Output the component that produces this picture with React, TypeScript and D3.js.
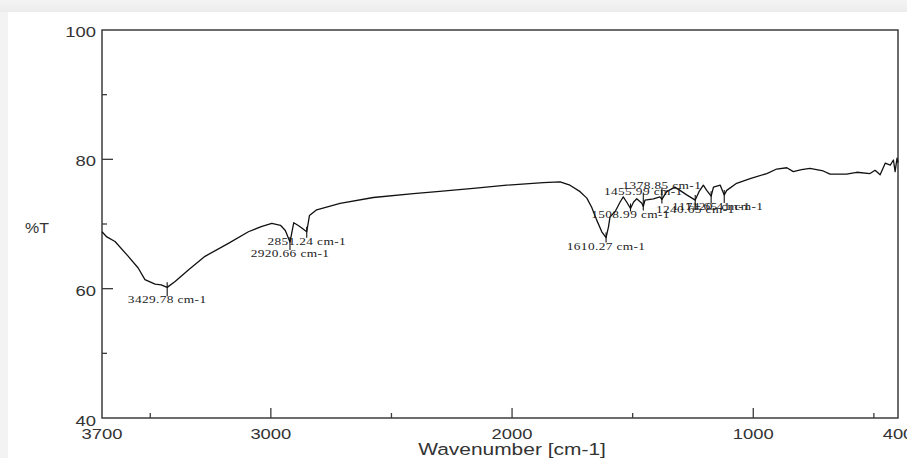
import { useEffect, useRef } from "react";
import * as d3 from "d3";

// FT-IR spectrum
const wavenumber = [
  3700, 3680, 3646, 3591, 3550, 3522, 3480, 3455, 3429.78, 3397, 3342, 3273, 3176, 3093, 3040, 2996,
  2960, 2940, 2920.66, 2905, 2883, 2865, 2851.24, 2840, 2810, 2713, 2575, 2409, 2312, 2161, 2022,
  1870, 1801, 1760, 1718, 1690, 1670, 1649, 1628, 1610.27, 1600, 1594, 1573, 1552, 1539, 1525,
  1508.99, 1496, 1483, 1462, 1455.99, 1449, 1414, 1387, 1378.85, 1359, 1325, 1304, 1276, 1240.65,
  1225, 1207, 1193, 1174.65, 1165, 1137, 1120.41, 1110, 1069, 1013, 944, 903, 861, 834, 800, 765,
  710, 682, 613, 571, 516, 495, 474, 453, 432, 419, 412, 404, 400,
];
const transmittance = [
  68.8, 68.0, 67.3, 65.0, 63.2, 61.4, 60.7, 60.6, 60.2, 61.1, 62.9, 65.0, 67.0, 68.8, 69.6, 70.1,
  69.8, 69.0, 67.2, 70.2, 69.7, 69.2, 68.8, 71.3, 72.2, 73.2, 74.1, 74.7, 75.0, 75.5, 76.0,
  76.4, 76.5, 76.0, 75.0, 74.0, 72.6, 70.6, 68.8, 67.9, 69.6, 71.1, 71.9, 73.4, 74.2, 73.4,
  72.4, 73.4, 73.9, 73.2, 72.7, 73.7, 73.9, 74.2, 73.8, 75.0, 75.7, 75.2, 74.5, 73.7,
  75.0, 76.0, 75.2, 74.3, 75.7, 76.0, 74.5, 75.2, 76.3, 77.0, 77.8, 78.5, 78.7, 78.1, 78.4, 78.6,
  78.2, 77.7, 77.7, 78.0, 77.8, 78.3, 77.6, 79.4, 79.1, 79.9, 78.1, 80.2, 79.5,
];

const peakWavenumbers = [3429.78, 2920.66, 2851.24, 1610.27, 1508.99, 1455.99, 1378.85, 1240.65, 1174.65, 1120.41];
const peakLabels = peakWavenumbers.map((w) => `${w.toFixed(2)} cm-1`);

const xTicks = [3700, 3000, 2000, 1000, 400];
const xMinorTicks = [3500, 3000, 2500, 2000, 1500, 1000, 500];
const yTicks = [100, 80, 60, 40];
const yMinorTicks = [90, 80, 70, 60, 50];

export default function App() {
  const ref = useRef<SVGSVGElement | null>(null);
  const width = 907;
  const height = 458;

  useEffect(() => {
    if (!ref.current) return;
    const svg = d3.select(ref.current);
    svg.selectAll("*").remove();

    const x = d3.scaleLinear().domain([3700, 400]).range([102, 898]);
    const y = d3.scaleLinear().domain([40, 100]).range([418, 30]);
    const stretch = "scale(1.27,1)";
    const frame = "#3c3c3c";

    // page background / card
    const defs = svg.append("defs");
    const grad = defs.append("linearGradient").attr("id", "topfade").attr("x1", 0).attr("x2", 0).attr("y1", 0).attr("y2", 1);
    grad.append("stop").attr("offset", "0%").attr("stop-color", "#f4f4f4");
    grad.append("stop").attr("offset", "100%").attr("stop-color", "#ececec");
    svg.append("rect").attr("width", width).attr("height", height).attr("fill", "#f3f3f3");
    svg.append("rect").attr("width", width).attr("height", 12).attr("fill", "url(#topfade)");
    svg.append("rect").attr("x", 8).attr("y", 12).attr("width", width - 8).attr("height", height - 12).attr("fill", "#fff");

    // frame
    svg.append("rect")
      .attr("x", x(3700)).attr("y", y(100))
      .attr("width", x(400) - x(3700)).attr("height", y(40) - y(100))
      .attr("fill", "none").attr("stroke", frame).attr("stroke-width", 1.5);

    // bottom ticks (inward)
    svg.append("g").selectAll("line").data(xMinorTicks).join("line")
      .attr("x1", (d) => x(d)).attr("x2", (d) => x(d))
      .attr("y1", y(40)).attr("y2", (d) => y(40) - (d % 1000 === 0 ? 10 : 5))
      .attr("stroke", frame).attr("stroke-width", 1.3);

    // left ticks (inward)
    svg.append("g").selectAll("line").data(yMinorTicks).join("line")
      .attr("x1", x(3700)).attr("x2", (d) => x(3700) + (d % 20 === 0 ? 11 : 5))
      .attr("y1", (d) => y(d)).attr("y2", (d) => y(d))
      .attr("stroke", frame).attr("stroke-width", 1.3);

    const sans = "'Liberation Sans', Arial, sans-serif";

    svg.append("g").selectAll("text").data(xTicks).join("text")
      .attr("transform", (d) => `translate(${x(d)},439) ${stretch}`)
      .attr("text-anchor", "middle").attr("font-family", sans).attr("font-size", 14.5).attr("fill", "#333")
      .text((d) => d);

    svg.append("g").selectAll("text").data(yTicks).join("text")
      .attr("transform", (d) => `translate(96,${y(d) + (d === 40 ? 8 : 7)}) ${stretch}`)
      .attr("text-anchor", "end").attr("font-family", sans).attr("font-size", 14.5).attr("fill", "#333")
      .text((d) => d);

    svg.append("text")
      .attr("transform", `translate(512,455) ${stretch}`)
      .attr("text-anchor", "middle").attr("font-family", sans).attr("font-size", 16.5).attr("fill", "#333")
      .text("Wavenumber [cm-1]");

    svg.append("text")
      .attr("transform", `translate(25,233) scale(1.1,1)`)
      .attr("font-family", sans).attr("font-size", 14.5).attr("fill", "#333")
      .text("%T");

    // spectrum
    const pts = wavenumber.map((w, i) => [w, transmittance[i]] as [number, number]);
    const line = d3.line<[number, number]>().x((d) => x(d[0])).y((d) => y(d[1]));
    svg.append("path").datum(pts).attr("d", line)
      .attr("fill", "none").attr("stroke", "#111").attr("stroke-width", 1.3).attr("stroke-linejoin", "round");

    // peak markers and labels (label offset in px below/above the dip)
    const labelDy = [12, 11, 9, 8, 6, -16, -14, 9, 10, 11];
    const g = svg.append("g");
    peakWavenumbers.forEach((w, i) => {
      const t = transmittance[wavenumber.indexOf(w)];
      const px = x(w);
      const py = y(t);
      const ly = py + labelDy[i];
      g.append("line")
        .attr("x1", px).attr("x2", px)
        .attr("y1", labelDy[i] > 0 ? py - 5 : ly + 2).attr("y2", labelDy[i] > 0 ? ly - 3 : py + 4)
        .attr("stroke", "#111").attr("stroke-width", 1.1);
      g.append("text")
        .attr("transform", `translate(${px},${ly + 4}) ${stretch}`)
        .attr("text-anchor", "middle")
        .attr("font-family", "'Liberation Serif', serif").attr("font-size", 10.5)
        .attr("letter-spacing", 0.3).attr("fill", "#222")
        .text(peakLabels[i]);
    });
  }, []);

  return (
    <svg
      ref={ref}
      width={width}
      height={height}
      style={{ position: "absolute", left: 0, top: 0, display: "block" }}
    />
  );
}
